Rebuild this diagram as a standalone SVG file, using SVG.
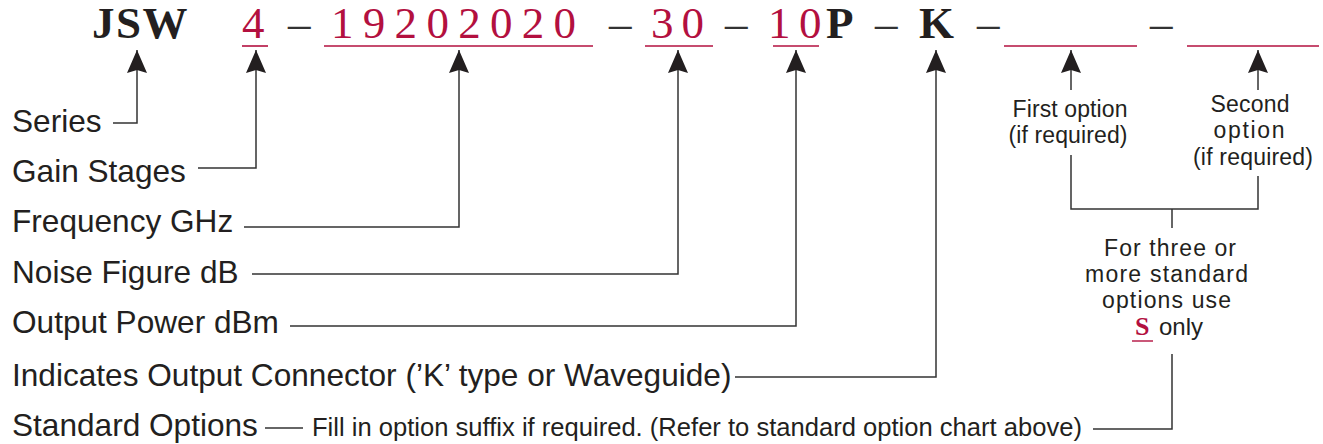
<svg xmlns="http://www.w3.org/2000/svg" width="1323" height="444" viewBox="0 0 1323 444">
<style>
.code{font-family:"Liberation Serif","Times New Roman",serif;font-size:45px}
.blk{fill:#231f20;font-weight:bold}
.red{fill:#b3103f}
.dash{fill:#333}
.ul{stroke:#b3103f;stroke-width:1.6;fill:none}
.lbl{font-family:"Liberation Sans",Arial,sans-serif;font-size:31.6px;fill:#231f20}
.sm{font-family:"Liberation Sans",Arial,sans-serif;font-size:23px;fill:#231f20;text-anchor:middle}
.fine{font-family:"Liberation Sans",Arial,sans-serif;font-size:25.6px;fill:#231f20}
.ln{stroke:#333;stroke-width:1.5;fill:none}
.arr{marker-start:url(#ah)}
</style>
<defs>
<marker id="ah" markerUnits="userSpaceOnUse" markerWidth="24" markerHeight="22" viewBox="0 0 24 22" refX="23" refY="11" orient="auto-start-reverse">
<path d="M0,1 L23,11 L0,21 L3,11 Z" fill="#231f20"/>
</marker>
</defs>

<g id="code">
<g id="series-code"><text class="code blk" x="92" y="38" style="letter-spacing:1.5px">JSW</text></g>
<g id="gain-code"><text class="code red" x="242" y="38">4</text><line class="ul" x1="242" y1="46" x2="268" y2="46"/></g>
<text class="code dash" x="288" y="38">–</text>
<g id="freq-code"><text class="code red" x="331 362.8 394.6 426.4 458.2 490 521.8 553.6" y="38">19202020</text><line class="ul" x1="324" y1="46" x2="593" y2="46"/></g>
<text class="code dash" x="609" y="38">–</text>
<g id="nf-code"><text class="code red" x="651 681.5" y="38">30</text><line class="ul" x1="645" y1="46" x2="713" y2="46"/></g>
<text class="code dash" x="725" y="38">–</text>
<g id="pwr-code"><text class="code red" x="768 799" y="38">10</text><line class="ul" x1="773" y1="46" x2="819" y2="46"/></g>
<text class="code blk" x="826" y="38">P</text>
<text class="code dash" x="875" y="38">–</text>
<g id="conn-code"><text class="code blk" x="919" y="38">K</text></g>
<text class="code dash" x="977" y="38">–</text>
<g id="opt1-code"><line class="ul" x1="1004" y1="46" x2="1137" y2="46"/></g>
<text class="code dash" x="1150" y="38">–</text>
<g id="opt2-code"><line class="ul" x1="1187" y1="46" x2="1319" y2="46"/></g>
</g>

<g id="connectors">
<path class="ln arr" d="M137,50 V123 H113"/>
<path class="ln arr" d="M256,50 V168 H198"/>
<path class="ln arr" d="M459,50 V227 H244"/>
<path class="ln arr" d="M678,50 V274 H252"/>
<path class="ln arr" d="M796,50 V326 H290"/>
<path class="ln arr" d="M936,50 V377 H735"/>
<path class="ln arr" d="M1071,50 V90"/>
<path class="ln arr" d="M1258,50 V90"/>
<path class="ln" d="M1071,155 V209 H1258 V176"/>
<path class="ln" d="M1172,209 V228"/>
<path class="ln" d="M1172,354 V429 H1093"/>
<path class="ln" d="M265,428 H303"/>
</g>

<g id="series"><text class="lbl" x="12" y="132">Series</text></g>
<g id="gain"><text class="lbl" x="12" y="182">Gain Stages</text></g>
<g id="frequency"><text class="lbl" x="12" y="232">Frequency GHz</text></g>
<g id="noise"><text class="lbl" x="12" y="283">Noise Figure dB</text></g>
<g id="power"><text class="lbl" x="12" y="333">Output Power dBm</text></g>
<g id="connector"><text class="lbl" x="12" y="386">Indicates Output Connector (’K’ type or Waveguide)</text></g>
<g id="options"><text class="lbl" x="12" y="436">Standard Options</text>
<text class="fine" x="312" y="436" textLength="770" lengthAdjust="spacingAndGlyphs">Fill in option suffix if required. (Refer to standard option chart above)</text></g>

<g id="first-option">
<text class="sm" x="1070" y="117" textLength="115">First option</text>
<text class="sm" x="1068" y="143" textLength="119">(if required)</text>
</g>
<g id="second-option">
<text class="sm" x="1250" y="112" textLength="79">Second</text>
<text class="sm" x="1249" y="138" textLength="71">option</text>
<text class="sm" x="1253" y="165" textLength="120">(if required)</text>
</g>
<g id="three-options">
<text class="sm" x="1170" y="256" textLength="132">For three or</text>
<text class="sm" x="1166.5" y="282" textLength="163">more standard</text>
<text class="sm" x="1166.5" y="308" textLength="129">options use</text>
<text x="1135" y="335" style="font-family:'Liberation Serif','Times New Roman',serif;font-size:26px;font-weight:bold;fill:#b3103f">S</text>
<line class="ul" x1="1132" y1="341" x2="1153" y2="341" style="stroke-width:1.4"/>
<text x="1159" y="335" style="font-family:'Liberation Sans',Arial,sans-serif;font-size:24px;fill:#231f20">only</text>
</g>
</svg>
